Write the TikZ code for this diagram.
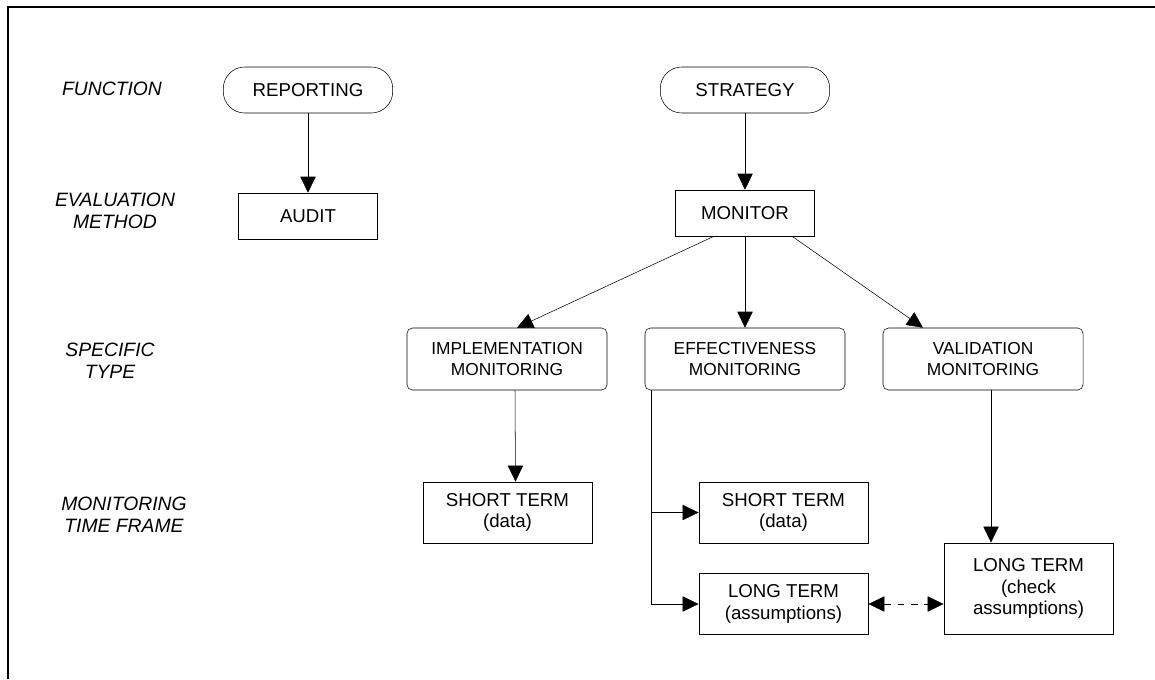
\documentclass[tikz,border=0pt]{standalone}
\usepackage{fontspec}
\setmainfont{Liberation Sans}
\usetikzlibrary{arrows.meta,positioning,calc}
\tikzset{
	>={Triangle[length=12pt,width=11.5pt]}, line width=1.3pt,% filled tips as in the scan
	fnbox/.style ={draw, rounded corners=16pt, minimum width=127pt, minimum height=34.5pt, inner sep=0pt, font=\fontsize{14}{16}\selectfont},
	methodbox/.style = {draw, rectangle, minimum width=104pt, minimum height=34.5pt, inner sep=0pt, font=\fontsize{14}{16}\selectfont},
	typebox/.style = {draw, rounded corners=4pt, minimum width=150pt, minimum height=46.5pt, inner sep=0pt, align=center, font=\fontsize{13}{15.8}\selectfont},
	termbox/.style = {draw, rectangle, minimum width=127pt, minimum height=46pt, inner sep=0pt, align=center, font=\fontsize{14}{16.3}\selectfont},
	rowlabel/.style = {align=center, inner sep=0pt, font=\itshape\fontsize{14.5}{16.3}\selectfont}
}
\begin{document}
\begin{tikzpicture}[x=0.75pt, y=-0.75pt,
        flow/.style={->},
        both/.style={<->, dashed, dash pattern=on 5pt off 5pt}
        ]
            \useasboundingbox (0,0) rectangle (1155,679);
            \draw[line width=1.5pt] (8,679) -- (8,7) -- (1155,7);
            % row labels
            \node[rowlabel] (lfunc) at (112,89) {FUNCTION};
            \node[rowlabel] (lmeth) at (115,211) {EVALUATION\\METHOD};
            \node[rowlabel] (ltype) at (110,361) {SPECIFIC\\TYPE};
            \node[rowlabel] (ltime) at (124,515) {MONITORING\\TIME FRAME};
            % boxes
            \node[fnbox] (rep) at (308,90) {REPORTING};
            \node[fnbox] (strat) at (745,90) {STRATEGY};
            \node[methodbox] (audit) at (308,216) {AUDIT};
            \node[methodbox] (mon) at (745,213) {MONITOR};
            \node[typebox] (impl) at (507,359) {IMPLEMENTATION\\MONITORING};
            \node[typebox] (eff) at (745,359) {EFFECTIVENESS\\MONITORING};
            \node[typebox] (valid) at (983,359) {VALIDATION\\MONITORING};
            \node[termbox] (short1) at (507.5,512.5) {SHORT TERM\\(data)};
            \node[termbox] (short2) at (783.5,512.5) {SHORT TERM\\(data)};
            \node[termbox] (long1) at (783.5,604) {LONG TERM\\(assumptions)};
            \node[termbox, minimum height=68.5pt] (long2) at (1028.5,588.5) {LONG TERM\\(check\\assumptions)};
            \coordinate (effdrop) at ($(eff.south west)+(7,0)$);
            \coordinate (valdrop) at ($(valid.south)+(8,0)$);
            % connectors
            \path[flow]
                (rep) edge (audit)
                (strat) edge (mon)
                (mon) edge (eff);
            \draw[flow] ($(mon.south)+(-31,0)$) -- ($(impl.north)+(10,0)$);
            \draw[flow] ($(mon.south)+(47,0)$) -- ($(valid.north)+(-60,0)$);
            \draw[flow] ($(impl.south)+(8,0)$) -- ($(short1.north)+(8,0)$);
            \draw[flow] (effdrop) |- (long1);
            \draw[flow] (effdrop |- short2) -- (short2);
            \draw[flow] (valdrop) -- (valdrop |- long2.north);
            \draw[both] (long1.east) -- (long1.east -| long2.west);
        \end{tikzpicture}
\end{document}
